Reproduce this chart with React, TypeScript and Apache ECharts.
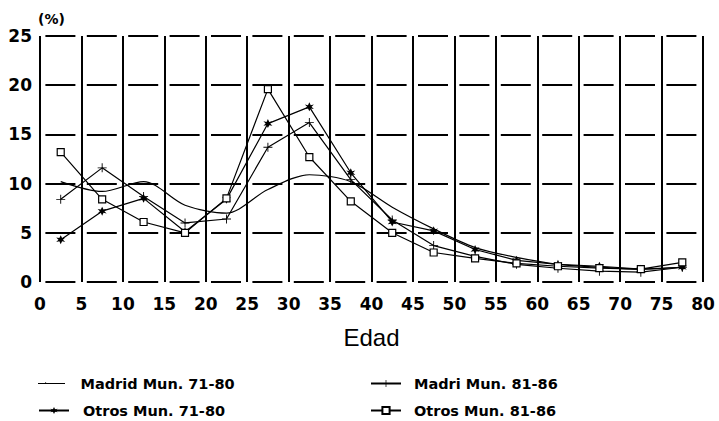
import React, { useEffect, useRef } from "react";
import * as echarts from "echarts";

const ages = [2.5, 7.5, 12.5, 17.5, 22.5, 27.5, 32.5, 37.5, 42.5, 47.5, 52.5, 57.5, 62.5, 67.5, 72.5, 77.5];
const madrid7180 = [10.2, 9.2, 10.2, 7.8, 7.0, 9.4, 10.9, 10.2, 7.6, 5.4, 3.5, 2.5, 1.8, 1.5, 1.3, 1.5];
const madri8186 = [8.4, 11.6, 8.7, 6.0, 6.4, 13.7, 16.2, 10.4, 6.3, 3.7, 2.6, 1.8, 1.4, 1.1, 1.0, 1.5];
const otros7180 = [4.3, 7.2, 8.5, 5.1, 8.4, 16.1, 17.8, 11.1, 6.1, 5.2, 3.3, 2.2, 1.8, 1.6, 1.3, 1.5];
const otros8186 = [13.2, 8.4, 6.1, 5.0, 8.5, 19.6, 12.7, 8.2, 5.0, 3.0, 2.4, 1.9, 1.6, 1.4, 1.3, 2.0];

const seriesNames = ["Madrid Mun. 71-80", "Madri Mun. 81-86", "Otros Mun. 71-80", "Otros Mun. 81-86"];

const FONT = "DejaVu Sans";

const plusPath = "path://M-0.6,-6H0.6V-0.6H6V0.6H0.6V6H-0.6V0.6H-6V-0.6H-0.6Z";
const starPath =
  "path://M0,-6L1.6,-2.2L5.2,-3L2.6,0L5.2,3L1.6,2.2L0,6L-1.6,2.2L-5.2,3L-2.6,0L-5.2,-3L-1.6,-2.2Z";
const plainLineIcon =
  "path://M0,0L0.05,0L0,0.05Z M0,4.4H30V5.6H0Z M8,3.6H9V4.4H8Z M30,10L29.95,10L30,9.95Z";

function pairs(vals: number[]) {
  return ages.map((a, i) => [a, vals[i]]);
}

export default function App() {
  const ref = useRef<HTMLDivElement>(null);
  useEffect(() => {
    const chart = echarts.init(ref.current as HTMLDivElement, null, { renderer: "svg" });
    const lineStyle = { color: "#000", width: 1.2 };
    const legendText = {
      color: "#000",
      fontFamily: FONT,
      fontWeight: "bold",
      fontSize: 14.5,
      padding: [0, 0, 0, 9],
    };
    const legendBase = {
      orient: "horizontal",
      padding: 0,
      itemWidth: 30,
      itemHeight: 9,
      textStyle: legendText,
    };
    chart.setOption({
      animation: false,
      backgroundColor: "#fff",
      grid: { left: 40, right: 16, top: 36, bottom: 139 },
      xAxis: {
        type: "value",
        min: 0,
        max: 80,
        interval: 5,
        name: "Edad",
        nameLocation: "middle",
        nameGap: 43,
        nameTextStyle: { color: "#000", fontFamily: "Liberation Sans", fontSize: 24 },
        axisLine: { show: false },
        axisTick: { show: false },
        axisLabel: { color: "#000", fontFamily: FONT, fontWeight: "bold", fontSize: 17, margin: 13 },
        splitLine: { show: true, showMinLine: true, showMaxLine: true, lineStyle: { color: "#000", width: 2 } },
      },
      yAxis: {
        type: "value",
        min: 0,
        max: 25,
        interval: 5,
        axisLine: { show: false },
        axisTick: { show: false },
        axisLabel: { color: "#000", fontFamily: FONT, fontWeight: "bold", fontSize: 17, margin: 8 },
        splitLine: {
          show: true,
          showMinLine: true,
          showMaxLine: true,
          lineStyle: { color: "#000", width: 2, type: [30, 11.4], dashOffset: 35.7 },
        },
      },
      graphic: [
        {
          type: "text",
          left: 38,
          top: 12,
          style: { text: "(%)", fill: "#000", font: `bold 14px "${FONT}"` },
        },
      ],
      legend: [
        { ...legendBase, data: [{ name: seriesNames[0], icon: plainLineIcon }], left: 38, top: 376 },
        { ...legendBase, data: [seriesNames[2]], left: 38, top: 403 },
        { ...legendBase, data: [seriesNames[1]], left: 370, top: 376, textStyle: { ...legendText, padding: [0, 0, 0, 8] } },
        { ...legendBase, data: [seriesNames[3]], left: 370, top: 403, textStyle: { ...legendText, padding: [0, 0, 0, 8] } },
      ],
      series: [
        {
          name: seriesNames[0],
          type: "line",
          data: pairs(madrid7180),
          smooth: 0.3,
          symbol: "none",
          lineStyle,
          itemStyle: { color: "#000" },
        },
        {
          name: seriesNames[1],
          type: "line",
          data: pairs(madri8186),
          symbol: plusPath,
          symbolSize: 9,
          lineStyle,
          itemStyle: { color: "#000" },
        },
        {
          name: seriesNames[2],
          type: "line",
          data: pairs(otros7180),
          symbol: starPath,
          symbolSize: 9,
          lineStyle,
          itemStyle: { color: "#000" },
        },
        {
          name: seriesNames[3],
          type: "line",
          data: pairs(otros8186),
          symbol: "rect",
          symbolSize: 7,
          lineStyle,
          itemStyle: { color: "#fff", borderColor: "#000", borderWidth: 1.2 },
        },
      ],
    });
    return () => chart.dispose();
  }, []);
  return <div ref={ref} style={{ position: "absolute", left: 0, top: 0, width: 719, height: 421 }} />;
}
